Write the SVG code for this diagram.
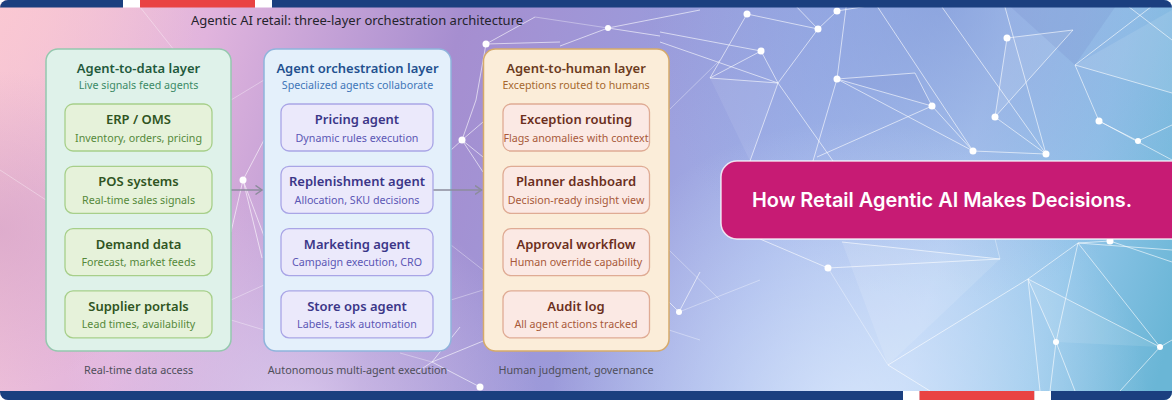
<svg xmlns="http://www.w3.org/2000/svg" width="1172" height="400" viewBox="0 0 1172 400">
<defs>
<style>
.t{font-family:"Noto Sans","Open Sans",sans-serif;text-anchor:middle}
.ttl{font-size:13px;fill:#24242c}
.lh{font-size:13px;font-weight:600}
.ls{font-size:10.7px}
.nh{font-size:13px;font-weight:600}
.ns{font-size:10.7px}
.cap{font-size:10.8px;fill:#4f4f5a}
.net{stroke:#ffffff;stroke-width:1;fill:none;stroke-opacity:.6}
.netf{stroke:#ffffff;stroke-width:1;fill:none;stroke-opacity:.35}
.dot{fill:#ffffff}
.g-out{fill:#dff2ea;stroke:#94c8ae;stroke-width:1.5}
.b-out{fill:#e4f0fb;stroke:#8fb4dc;stroke-width:1.5}
.o-out{fill:#fbedd9;stroke:#d6aa6a;stroke-width:1.5}
.g-in{fill:#e6f2da;stroke:#a7cf8a;stroke-width:1.3}
.b-in{fill:#ebe9fb;stroke:#a9a5e6;stroke-width:1.3}
.o-in{fill:#fbe9e4;stroke:#dfab94;stroke-width:1.3}
.g-h{fill:#2f5422}.g-s{fill:#55893a}
.b-h{fill:#3b3688}.b-s{fill:#5b57b5}
.o-h{fill:#6b2f1d}.o-s{fill:#a8593a}
.conn{stroke:#8c8c9c;stroke-width:1.5;fill:none}
</style>
<linearGradient id="bg" gradientUnits="userSpaceOnUse" x1="0" y1="0" x2="1172" y2="330">
<stop offset="0" stop-color="#f6c6d4"/>
<stop offset="0.17" stop-color="#e1b4dd"/>
<stop offset="0.37" stop-color="#a68ed0"/>
<stop offset="0.52" stop-color="#9c9ada"/>
<stop offset="0.66" stop-color="#a2b4ea"/>
<stop offset="0.8" stop-color="#b0ccf2"/>
<stop offset="0.9" stop-color="#94c6ea"/>
<stop offset="1" stop-color="#6ab6d6"/>
</linearGradient>
<radialGradient id="glow1" gradientUnits="userSpaceOnUse" cx="850" cy="420" r="300">
<stop offset="0" stop-color="#e4efff" stop-opacity="0.7"/>
<stop offset="1" stop-color="#e4efff" stop-opacity="0"/>
</radialGradient>
<radialGradient id="glow2" gradientUnits="userSpaceOnUse" cx="300" cy="420" r="240">
<stop offset="0" stop-color="#ece0f8" stop-opacity="0.65"/>
<stop offset="1" stop-color="#ece0f8" stop-opacity="0"/>
</radialGradient>
<radialGradient id="dark1" gradientUnits="userSpaceOnUse" cx="940" cy="0" r="300">
<stop offset="0" stop-color="#7a92d4" stop-opacity="0.6"/>
<stop offset="1" stop-color="#7a92d4" stop-opacity="0"/>
</radialGradient>
<radialGradient id="pinkc" gradientUnits="userSpaceOnUse" cx="0" cy="0" r="200">
<stop offset="0" stop-color="#fbc8d2" stop-opacity="0.8"/>
<stop offset="1" stop-color="#fbc8d2" stop-opacity="0"/>
</radialGradient>
<radialGradient id="mauve" gradientUnits="userSpaceOnUse" cx="0" cy="230" r="160">
<stop offset="0" stop-color="#d09cc4" stop-opacity="0.55"/>
<stop offset="1" stop-color="#d09cc4" stop-opacity="0"/>
</radialGradient>
<clipPath id="card"><rect x="0" y="0" width="1172" height="400" rx="8"/></clipPath>
<marker id="arr" markerUnits="userSpaceOnUse" markerWidth="10" markerHeight="12" refX="7" refY="5" orient="auto">
<path d="M0.5,0.5 L7,5 L0.5,9.5" fill="none" stroke="#8c8c9c" stroke-width="1.5"/>
</marker>
</defs>

<rect width="1172" height="400" fill="#ffffff"/>
<g clip-path="url(#card)">
<rect width="1172" height="400" fill="url(#bg)"/>
<rect width="1172" height="400" fill="url(#pinkc)"/>
<rect width="1172" height="400" fill="url(#mauve)"/>
<rect width="1172" height="400" fill="url(#dark1)"/>
<rect width="1172" height="400" fill="url(#glow2)"/>
<rect width="1172" height="400" fill="url(#glow1)"/>
<g fill="#ffffff">
<polygon points="842,242 1000,259 888,365" opacity="0.12"/>
<polygon points="1028,279 1160,347 1056,342" opacity="0.1"/>
<polygon points="778,83 710,78 750,161" opacity="0.08"/>
<polygon points="995,117 1073,30 1007,38" opacity="0.1"/>
<polygon points="1075,65 1172,93 1172,10" opacity="0.1"/>
</g>
<g fill="#5a6cb8">
<polygon points="1003,0 1120,0 1075,65" opacity="0.12"/>
<polygon points="837,79 915,73 932,106" opacity="0.08"/>
</g>
<path class="net" d="M747,14 L818,29 M747,14 L710,78 M761,51 L710,78 M660,32 L761,51 M660,42 L778,83 M778,83 L818,29 M778,83 L710,78 M778,83 L761,51 M778,83 L833,161 M778,83 L750,161 M818,29 L837,11 M837,11 L905,0 M818,29 L790,0 M837,79 L932,106 M837,79 L915,73 M915,73 L932,106 M837,79 L973,151 M837,79 L813,161 M837,79 L847,0 M932,106 L817,157 M932,106 L973,151 M873,0 L973,151 M1007,38 L995,117 M995,117 L1073,30 M1007,38 L1073,30 M995,117 L1046,154 M1003,0 L1046,154 M937,0 L1046,154 M1075,65 L1099,121 M1075,65 L1172,93 M1075,65 L1160,0 M1099,121 L1138,141 M1099,121 L1172,160 M1138,141 L1172,125 M1120,0 L1172,40 M973,151 L1046,154 M1028,279 L888,365 M1028,279 L1160,347 M1028,279 L1056,342 M1078,243 L1056,342 M1078,243 L1160,347 M1078,243 L1028,279 M1160,347 L1120,391 M1160,347 L1172,340 M1028,279 L1040,391 M1056,342 L1050,391 M1056,342 L1075,391 M888,365 L930,391 M828,268 L760,239 M828,268 L1000,259 M842,242 L1000,259 M1110,241 L1172,262 M1110,241 L1078,243 M1078,243 L1172,250 M679,312 L660,293 M679,312 L700,272 M243,180 L231,232 M243,180 L264,236 M243,180 L262,258 M243,180 L264,140 M462,140 L483,122 M462,140 L483,172 M462,140 L483,157 M462,140 L451,150 M462,140 L476,100 M476,100 L486,44 M486,44 L535,17 M486,44 L560,42 M608,28 L660,36 M608,28 L700,10 M608,28 L560,46 M432,362 L480,387 M432,362 L493,337 M432,362 L460,327 M432,362 L417,372"/>
<path class="netf" d="M140,7 L174,50 M231,300 L264,285 M231,320 L264,330 M451,245 L483,270 M451,300 L483,290 M669,110 L720,60 M669,250 L720,300 M669,330 L700,340 M828,268 L888,365 M679,312 L760,280 M400,353 L432,362 M1000,259 L995,239 M535,17 L608,28 M0,170 L46,200 M231,100 L264,80"/>
<g class="dot">
<circle cx="747" cy="14" r="3.5"/><circle cx="837" cy="11" r="3.5"/><circle cx="818" cy="29" r="3.5"/><circle cx="761" cy="51" r="3.5"/><circle cx="837" cy="79" r="3.5"/><circle cx="932" cy="106" r="3.5"/><circle cx="1007" cy="38" r="3.5"/><circle cx="995" cy="117" r="3.5"/><circle cx="973" cy="151" r="3.5"/><circle cx="1046" cy="154" r="3.5"/><circle cx="1099" cy="121" r="3.5"/><circle cx="1138" cy="141" r="3"/>
<circle cx="828" cy="268" r="3.5"/><circle cx="679" cy="312" r="3"/><circle cx="1056" cy="342" r="3"/><circle cx="1160" cy="347" r="3"/><circle cx="1110" cy="241" r="3.5"/>
<circle cx="243" cy="180" r="3.5"/><circle cx="462" cy="140" r="3.5"/><circle cx="486" cy="44" r="3.5"/><circle cx="608" cy="28" r="3"/><circle cx="480" cy="387" r="3.5"/>
</g>
<rect x="0" y="0" width="123" height="7.5" fill="#1b3f7f"/>
<rect x="123" y="0" width="17" height="7.5" fill="#ffffff"/>
<rect x="140" y="0" width="115" height="7.5" fill="#e94343"/>
<rect x="255" y="0" width="17" height="7.5" fill="#ffffff"/>
<rect x="272" y="0" width="900" height="7.5" fill="#1b3f7f"/>
<rect x="0" y="391" width="903" height="9" fill="#1b3f7f"/>
<rect x="903" y="391" width="16.5" height="9" fill="#ffffff"/>
<rect x="919.5" y="391" width="115" height="9" fill="#e94343"/>
<rect x="1034.5" y="391" width="16.5" height="9" fill="#ffffff"/>
<rect x="1051" y="391" width="121" height="9" fill="#1b3f7f"/>
</g>

<text class="t ttl" x="357" y="25">Agentic AI retail: three-layer orchestration architecture</text>

<g id="layer-data">
<rect class="g-out" x="46" y="49" width="185" height="302" rx="12"/>
<text class="t lh" x="138.5" y="73" fill="#1f5a3c">Agent-to-data layer</text>
<text class="t ls" x="138.5" y="88.5" fill="#3b8a66">Live signals feed agents</text>
</g>
<g id="erp-oms">
<rect class="g-in" x="65" y="104" width="147" height="47" rx="8"/>
<text class="t nh g-h" x="138.5" y="124">ERP / OMS</text>
<text class="t ns g-s" x="138.5" y="141.5">Inventory, orders, pricing</text>
</g>
<g id="pos-systems">
<rect class="g-in" x="65" y="166.3" width="147" height="47" rx="8"/>
<text class="t nh g-h" x="138.5" y="186.3">POS systems</text>
<text class="t ns g-s" x="138.5" y="203.8">Real-time sales signals</text>
</g>
<g id="demand-data">
<rect class="g-in" x="65" y="228.6" width="147" height="47" rx="8"/>
<text class="t nh g-h" x="138.5" y="248.6">Demand data</text>
<text class="t ns g-s" x="138.5" y="266.1">Forecast, market feeds</text>
</g>
<g id="supplier-portals">
<rect class="g-in" x="65" y="290.9" width="147" height="47" rx="8"/>
<text class="t nh g-h" x="138.5" y="310.9">Supplier portals</text>
<text class="t ns g-s" x="138.5" y="328.4">Lead times, availability</text>
</g>

<g id="layer-orchestration">
<rect class="b-out" x="264" y="49" width="187" height="302" rx="12"/>
<text class="t lh" x="357.5" y="73" fill="#23508f">Agent orchestration layer</text>
<text class="t ls" x="357.5" y="88.5" fill="#3f76b8">Specialized agents collaborate</text>
</g>
<g id="pricing-agent">
<rect class="b-in" x="281" y="104" width="152" height="47" rx="8"/>
<text class="t nh b-h" x="357" y="124">Pricing agent</text>
<text class="t ns b-s" x="357" y="141.5">Dynamic rules execution</text>
</g>
<g id="replenishment-agent">
<rect class="b-in" x="281" y="166.3" width="152" height="47" rx="8"/>
<text class="t nh b-h" x="357" y="186.3">Replenishment agent</text>
<text class="t ns b-s" x="357" y="203.8">Allocation, SKU decisions</text>
</g>
<g id="marketing-agent">
<rect class="b-in" x="281" y="228.6" width="152" height="47" rx="8"/>
<text class="t nh b-h" x="357" y="248.6">Marketing agent</text>
<text class="t ns b-s" x="357" y="266.1">Campaign execution, CRO</text>
</g>
<g id="store-ops-agent">
<rect class="b-in" x="281" y="290.9" width="152" height="47" rx="8"/>
<text class="t nh b-h" x="357" y="310.9">Store ops agent</text>
<text class="t ns b-s" x="357" y="328.4">Labels, task automation</text>
</g>

<g id="layer-human">
<rect class="o-out" x="483.5" y="49" width="185.5" height="302" rx="12"/>
<text class="t lh" x="576" y="73" fill="#6b3b1d">Agent-to-human layer</text>
<text class="t ls" x="576" y="88.5" fill="#a6682e">Exceptions routed to humans</text>
</g>
<g id="exception-routing">
<rect class="o-in" x="503" y="104" width="146.5" height="47" rx="8"/>
<text class="t nh o-h" x="576" y="124">Exception routing</text>
<text class="t ns o-s" x="576" y="141.5">Flags anomalies with context</text>
</g>
<g id="planner-dashboard">
<rect class="o-in" x="503" y="166.3" width="146.5" height="47" rx="8"/>
<text class="t nh o-h" x="576" y="186.3">Planner dashboard</text>
<text class="t ns o-s" x="576" y="203.8">Decision-ready insight view</text>
</g>
<g id="approval-workflow">
<rect class="o-in" x="503" y="228.6" width="146.5" height="47" rx="8"/>
<text class="t nh o-h" x="576" y="248.6">Approval workflow</text>
<text class="t ns o-s" x="576" y="266.1">Human override capability</text>
</g>
<g id="audit-log">
<rect class="o-in" x="503" y="290.9" width="146.5" height="47" rx="8"/>
<text class="t nh o-h" x="576" y="310.9">Audit log</text>
<text class="t ns o-s" x="576" y="328.4">All agent actions tracked</text>
</g>

<g id="connectors">
<line class="conn" x1="231.5" y1="190" x2="262" y2="190" marker-end="url(#arr)"/>
<line class="conn" x1="433.5" y1="190" x2="481.5" y2="190" marker-end="url(#arr)"/>
</g>

<text class="t cap" x="138.5" y="374">Real-time data access</text>
<text class="t cap" x="357.5" y="374">Autonomous multi-agent execution</text>
<text class="t cap" x="576" y="374">Human judgment, governance</text>

<g id="cta">
<rect x="721" y="161" width="470" height="78" rx="16" fill="#c71b74" stroke="#ffffff" stroke-opacity="0.8" stroke-width="1.5"/>
<text x="752" y="206.5" font-family="Inter, sans-serif" font-size="19.9" font-weight="600" fill="#ffffff">How Retail Agentic AI Makes Decisions.</text>
</g>
</svg>
